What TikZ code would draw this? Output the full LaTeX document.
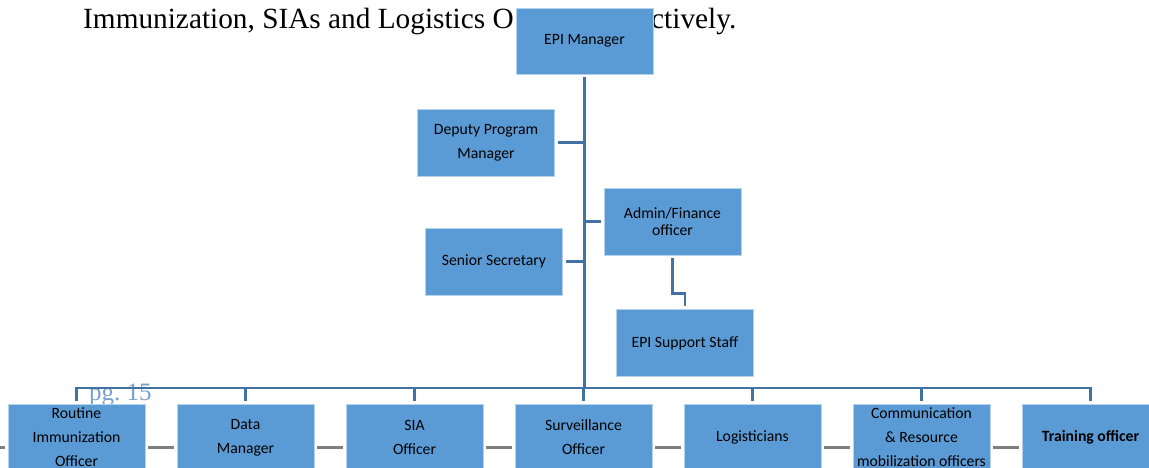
\documentclass[tikz,border=0pt]{standalone}
\usepackage{fontspec}
\setmainfont{Liberation Serif}
\newfontfamily\carlito{Carlito}
\usetikzlibrary{calc}

\definecolor{boxblue}{RGB}{91,155,213}
\definecolor{boxedge}{RGB}{182,210,236}
\definecolor{linkblue}{RGB}{66,114,162}
\definecolor{linkgray}{RGB}{127,127,127}
\definecolor{footblue}{RGB}{122,160,208}

\begin{document}
\begin{tikzpicture}[x=1pt,y=-1pt,
  orgbox/.style={rectangle, fill=boxblue, draw=boxedge, line width=0.8pt,
    minimum width=137pt, minimum height=67pt, inner sep=0pt, align=center,
    text=black, font=\carlito\fontsize{15.7}{24}\selectfont},
  link/.style={draw=linkblue, line width=2.8pt},
  peer/.style={draw=linkgray, line width=3pt},
  bodytext/.style={anchor=base west, inner sep=0pt,
    font=\fontsize{29.3}{32}\selectfont}]
\useasboundingbox (0,0) rectangle (1149,467);
\clip (0,0) rectangle (1149,467);

% running text of the page and the footer
\node[bodytext] (line1) at (83,28) {Immunization, SIAs and Logistics O};
\node[bodytext] (line2) at (651,28) {ctively.};
\node[anchor=base west, inner sep=0pt, text=footblue,
  font=\fontsize{25}{28}\selectfont] (foot) at (89,400) {pg.\ 15};

% upper part of the chart
\node[orgbox, minimum height=66pt] (mgr) at (584.5,41) {EPI Manager};
\node[orgbox] (dep) at (486,142.5) {Deputy Program\\Manager};
\node[orgbox] (sec) at (494,261.5) {Senior Secretary};
\node[orgbox, font=\carlito\fontsize{15.7}{17}\selectfont] (adm) at (672.5,221.5) {Admin/Finance\\officer};
\node[orgbox] (sup) at (685,343) {EPI Support Staff};

% bottom row of officers
\node[orgbox] (ri)  at (76.5,437.5)  {Routine\\Immunization\\Officer};
\node[orgbox] (dm)  at (245.5,437.5) {Data\\Manager};
\node[orgbox] (sia) at (414.5,437.5) {SIA\\Officer};
\node[orgbox] (sur) at (583.5,437.5) {Surveillance\\Officer};
\node[orgbox] (log) at (752.5,437.5) {Logisticians};
\node[orgbox] (com) at (921.5,437.5) {Communication\\\&\ Resource\\mobilization officers};
\node[orgbox] (tr)  at (1090.5,437.5) {\bfseries Training officer};

% reporting lines
\coordinate (bus) at (0,388);
\coordinate (gy) at (0,447);
\coordinate (edge) at (-6,447);
\draw[link] ([yshift=-3pt]mgr.south) -- (mgr.south |- bus);
\draw[link] ([xshift=3pt]dep.east) -- (dep.east -| mgr.south);
\draw[link] ([xshift=3pt]sec.east) -- (sec.east -| mgr.south);
\draw[link] ([xshift=-3pt]adm.west) -- (adm.west -| mgr.south);
\draw[link] ([yshift=-3pt]adm.south) -- ++(0,35) -| ([yshift=3pt]sup.north);
\draw[link] ([yshift=3pt]ri.north) -- (ri.north |- bus) -- (tr.north |- bus) -- ([yshift=3pt]tr.north);
\foreach \n in {dm,sia,sur,log,com}
  \draw[link] (\n.north |- bus) -- ([yshift=3pt]\n.north);

% links between neighbouring officers
\draw[peer] (edge) -- ($(ri.west |- gy)+(-3,0)$);
\draw[peer] ($(ri.east |- gy)+(3,0)$) -- ($(dm.west |- gy)+(-3,0)$);
\draw[peer] ($(dm.east |- gy)+(3,0)$) -- ($(sia.west |- gy)+(-3,0)$);
\draw[peer] ($(sia.east |- gy)+(3,0)$) -- ($(sur.west |- gy)+(-3,0)$);
\draw[peer] ($(sur.east |- gy)+(3,0)$) -- ($(log.west |- gy)+(-3,0)$);
\draw[peer] ($(log.east |- gy)+(3,0)$) -- ($(com.west |- gy)+(-3,0)$);
\draw[peer] ($(com.east |- gy)+(3,0)$) -- ($(tr.west |- gy)+(-3,0)$);
\end{tikzpicture}
\end{document}
